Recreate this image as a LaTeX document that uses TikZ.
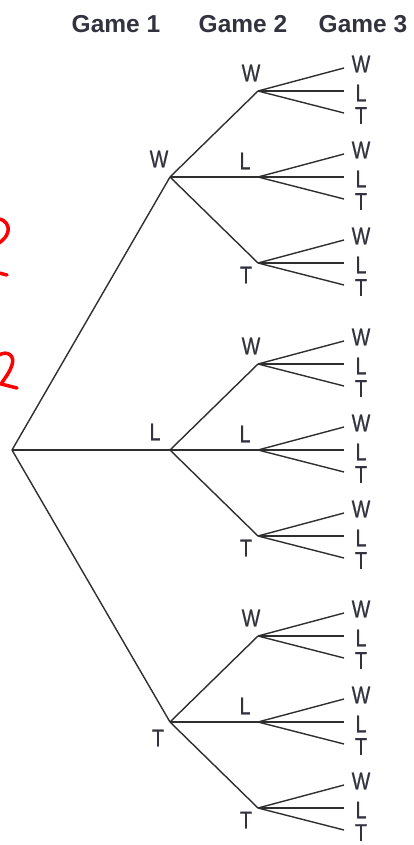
\documentclass[tikz,border=0pt]{standalone}
\usepackage{fontspec}
\usetikzlibrary{calc}
\setmainfont{Liberation Sans}[FakeStretch=0.82, FakeBold=0.6]
\newfontfamily\headfont{Liberation Sans}
\definecolor{ink}{HTML}{2E2E2E}
\definecolor{txt}{HTML}{33333F}
\tikzset{
  branch/.style={draw=ink, line width=1.4pt},
  lbl/.style={text=txt, inner sep=0pt, font=\fontsize{24}{24}\selectfont},
  head/.style={text=txt, inner sep=0pt, font=\headfont\bfseries\fontsize{24.5}{24.5}\selectfont},
  redmark/.style={draw=red, line width=3.5pt, line cap=round, line join=round}
}
\begin{document}
\begin{tikzpicture}[x=1pt,y=-1pt]
\useasboundingbox (0,0) rectangle (413,845);
% headers
\node[head] (h1) at (116,24) {Game 1};
\node[head] (h2) at (243,24) {Game 2};
\node[head] (h3) at (363,24) {Game 3};
% root
\coordinate (r) at (12,450);
% game 1
\coordinate (g1) at (170,177);
\coordinate (g2) at (170,450);
\coordinate (g3) at (170,722);
\node[lbl] (g1l) at (159,159) {W};
\node[lbl] (g2l) at (155,432) {L};
\node[lbl] (g3l) at (158,738) {T};
\foreach \i in {1,2,3} \draw[branch] (r) -- (g\i);
% game 2
\foreach \i/\cy in {1/177,2/450,3/722}{
  \foreach \j/\lab/\dy/\lx/\ly in {1/W/-86/-7/-18, 2/L/0/-13/-16, 3/T/86/-12/12}{
    \coordinate (n\i\j) at (258,\cy+\dy);
    \draw[branch] (g\i) -- (n\i\j);
    \node[lbl] (n\i\j l) at ($(n\i\j)+(\lx,\ly)$) {\lab};
    \foreach \k/\klab/\ey/\ty in {1/W/-23/-27, 2/L/0/2, 3/T/22/24.5}{
      \coordinate (e\i\j\k) at (344,\cy+\dy+\ey);
      \draw[branch] (n\i\j) -- (e\i\j\k);
      \node[lbl] (t\i\j\k) at (361,\cy+\dy+\ty) {\klab};
    }
  }
}
% red handwritten marks
\draw[redmark] (-1,219) .. controls (6,220) and (9,226) .. (8,231) .. controls (7,237) and (3,240) .. (-1,243);
\draw[redmark] (-1,273) -- (7,275);
\draw[redmark] (-1,355) .. controls (8,350) and (15,356) .. (12,365) .. controls (10,372) and (5,378) .. (1,384) -- (17,388);
\end{tikzpicture}
\end{document}
